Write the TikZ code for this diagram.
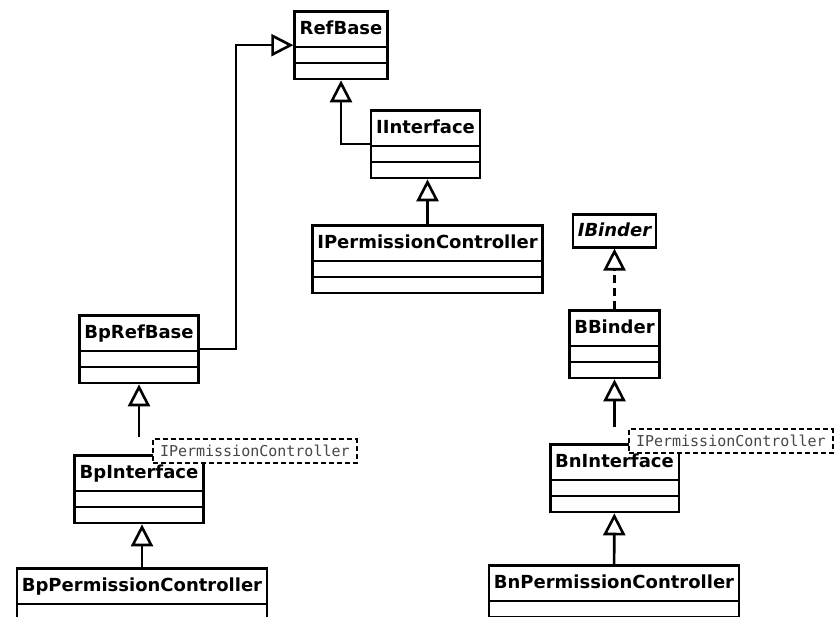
\documentclass[tikz,border=0pt]{standalone}
\usepackage{fontspec}
\setmainfont{DejaVu Sans}
\setmonofont{DejaVu Sans Mono}
\usepackage{tikz}
\newcommand{\boxline}{2.6pt}
\newcommand{\namestrut}{\rule[-7pt]{0pt}{25pt}}
\newcommand{\clsname}[1]{\namestrut#1\nodepart{second}\nodepart{third}}
\definecolor{noteGray}{RGB}{70,70,70}
\usetikzlibrary{arrows.meta,calc,positioning,shapes.multipart}
\tikzset{
  >=stealth,
  font=\bfseries\fontsize{18}{21}\selectfont,
  cls/.style={draw,fill=white,shape=rectangle split,rectangle split parts=3,rectangle split ignore empty parts=false,rectangle split empty part height=1pt,rectangle split empty part depth=0pt,inner xsep=5pt,inner ysep=4pt,line width=\boxline,anchor=north},
  iface/.style={draw,fill=white,shape=rectangle,inner xsep=5pt,inner ysep=4pt,line width=\boxline,anchor=north,font=\bfseries\itshape\fontsize{18}{21}\selectfont},
  note/.style={draw,fill=white,dash pattern=on 5pt off 3pt,line width=2pt,anchor=north west,inner xsep=7pt,inner ysep=6pt,text height=11.5pt,text depth=0.5pt,text=noteGray,font=\ttfamily\fontsize{15}{18}\selectfont},
  line/.style={draw,line width=\boxline},
  inherit/.style={line,-{Triangle[open,length=22pt,width=22pt]}},
  realize/.style={inherit,dash pattern=on 8pt off 5pt},
}
\begin{document}
\begin{tikzpicture}[x=1pt,y=1pt]
  \useasboundingbox (0,0) rectangle (834,-617);
  \clip (0,0) rectangle (834,-617);
  % left column and RefBase tree
  \node (rb) [cls] at (341,-10) {\clsname{RefBase}};
  \node (ii) [cls] at (425.5,-109) {\clsname{IInterface}};
  \node (ipc) [cls] at (427.5,-224) {\clsname{IPermissionController}};
  \node (bprb) [cls] at (139,-314) {\clsname{BpRefBase}};
  \node (bpif) [cls] at (139,-454) {\clsname{BpInterface}};
  \node (bppc) [cls] at (142,-567) {\clsname{BpPermissionController}};
  % binder side
  \node (ib) [iface] at (614.5,-213) {\namestrut IBinder};
  \node (bb) [cls] at (614.5,-309) {\clsname{BBinder}};
  \node (bnif) [cls] at (614.5,-443) {\clsname{BnInterface}};
  \node (bnpc) [cls] at (614,-564) {\clsname{BnPermissionController}};
  % generalizations
  \draw [inherit] (ii) -| (rb);
  \draw [inherit] (ipc.north) -- (ipc.north |- ii.south);
  \draw [inherit] (bprb) -- ($(bprb.east)+(36,0)$) |- (rb);
  \draw [inherit,shorten <=17pt] (bpif) -- (bprb);
  \draw [inherit] (bppc.north) -- (bppc.north |- bpif.south);
  \draw [realize] (bb) -- (ib);
  \draw [inherit,shorten <=16pt] (bnif) -- (bb);
  \draw [inherit] (bnpc) -- (bnif);
  % template parameters
  \node (bpnote) [note] at (152,-438) {IPermissionController};
  \node (bnnote) [note] at (628,-428) {IPermissionController};
\end{tikzpicture}
\end{document}
